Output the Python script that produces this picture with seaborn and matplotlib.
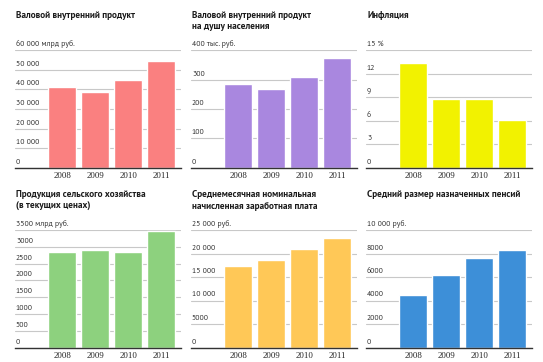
import numpy as np
import pandas as pd
import matplotlib
matplotlib.use("Agg")
import matplotlib.pyplot as plt
import matplotlib.transforms as mtransforms
import seaborn as sns

sns.set_style("white")
plt.rcParams['font.family'] = ['PT Sans', 'Open Sans', 'DejaVu Sans']

years = ["2008", "2009", "2010", "2011"]

gdp = [41300, 38800, 44900, 54500]
gdp_per_capita = [286, 267, 309, 373]
inflation = [13.3, 8.8, 8.8, 6.1]
agriculture = [2830, 2900, 2850, 3460]
wages = [17290, 18640, 20950, 23370]
pensions = [4500, 6150, 7630, 8260]

titles = [
    "Валовой внутренний продукт",
    "Валовой внутренний продукт\nна душу населения",
    "Инфляция",
    "Продукция сельского хозяйства\n(в текущих ценах)",
    "Среднемесячная номинальная\nначисленная заработная плата",
    "Средний размер назначенных пенсий",
]
tick_values = [
    [0, 10000, 20000, 30000, 40000, 50000, 60000],
    [0, 100, 200, 300, 400],
    [0, 3, 6, 9, 12, 15],
    [0, 500, 1000, 1500, 2000, 2500, 3000, 3500],
    [0, 5000, 10000, 15000, 20000, 25000],
    [0, 2000, 4000, 6000, 8000, 10000],
]
tick_labels = [
    ["0", "10 000", "20 000", "30 000", "40 000", "50 000", "60 000 млрд руб."],
    ["0", "100", "200", "300", "400 тыс. руб."],
    ["0", "3", "6", "9", "12", "15 %"],
    ["0", "500", "1000", "1500", "2000", "2500", "3000", "3500 млрд руб."],
    ["0", "5000", "10 000", "15 000", "20 000", "25 000 руб."],
    ["0", "2000", "4000", "6000", "8000", "10 000 руб."],
]
series = [gdp, gdp_per_capita, inflation, agriculture, wages, pensions]
colors = ["#fa8080", "#a987df", "#f2f200", "#8dd17e", "#ffc857", "#3d8fd8"]

W, H = 543, 362
fig = plt.figure(figsize=(W / 100, H / 100), dpi=100)

col_left = [15, 191, 366]
row_top = [50, 230]       # pixel y of top gridline
row_base = [168, 347.5]   # pixel y of baseline
title_y = [10.5, 190]

for i in range(6):
    r, c = divmod(i, 3)
    left = col_left[c]
    width = 166
    top, base = row_top[r], row_base[r]
    ax = fig.add_axes([left / W, 1 - base / H, width / W, (base - top) / H])
    df = pd.DataFrame({"year": years, "value": series[i]})
    sns.barplot(data=df, x="year", y="value", color=colors[i], width=0.84,
                saturation=1, ax=ax, zorder=2)
    ax.set_xlim(-1.43, 3.6)
    ax.set_ylim(0, tick_values[i][-1])
    ax.set_xlabel("")
    ax.set_ylabel("")
    ax.set_yticks(tick_values[i])
    ax.set_yticklabels([])
    ax.tick_params(axis="y", length=0)
    ax.tick_params(axis="x", length=0, pad=3, labelsize=6.3, labelcolor="#222222")
    for lab in ax.get_xticklabels():
        lab.set_family("Liberation Serif")
    ax.grid(axis="y", color="#c8c8c8", linewidth=0.8, zorder=0)
    ax.set_axisbelow(True)
    for s in ["top", "right", "left"]:
        ax.spines[s].set_visible(False)
    ax.spines["bottom"].set_color("#333333")
    ax.spines["bottom"].set_linewidth(1.0)

    # value labels sit just above their gridlines at the left edge
    trans = mtransforms.blended_transform_factory(ax.transAxes, ax.transData)
    shift = mtransforms.ScaledTranslation(0, 2 / 100, fig.dpi_scale_trans)
    for v, lab in zip(tick_values[i], tick_labels[i]):
        ax.text(0.005, v, lab, transform=trans + shift, ha="left", va="bottom",
                fontsize=5.6, color="#333333")

    fig.text((left + 1) / W, 1 - title_y[r] / H, titles[i], ha="left", va="top",
             fontsize=6.7, fontweight="semibold", color="#1a1a1a", linespacing=1.4)

fig.savefig("out.png", dpi=100)
